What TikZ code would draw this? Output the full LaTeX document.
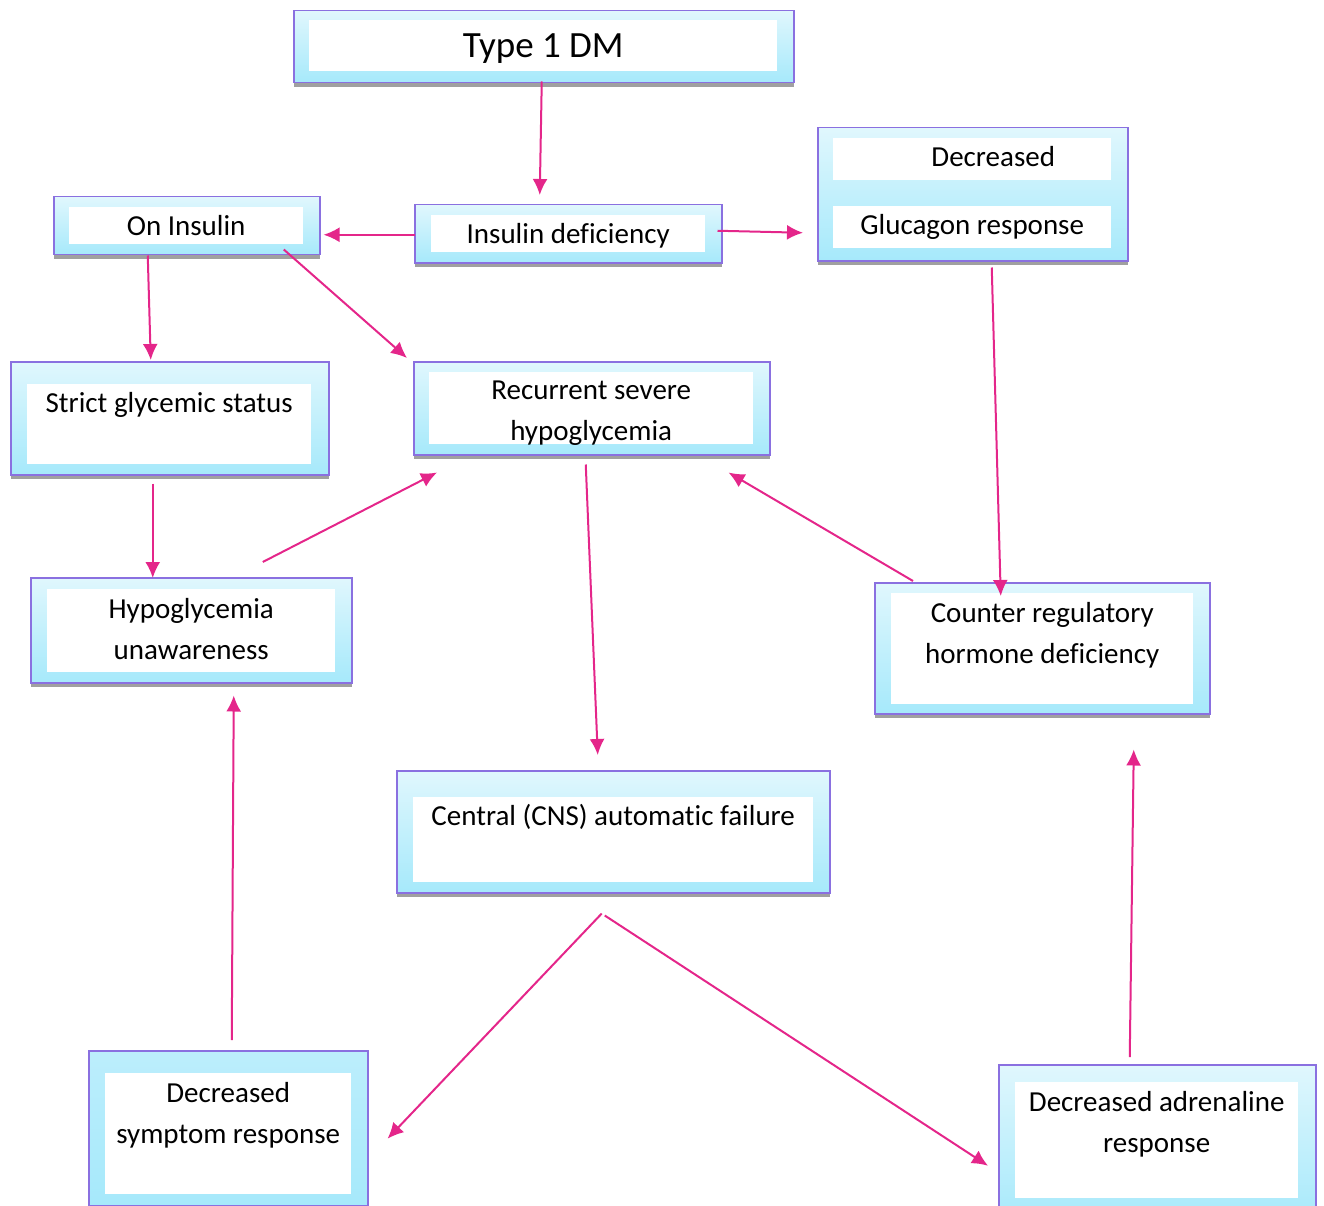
\documentclass[tikz,border=0pt]{standalone}
\usepackage{fontspec}
\setmainfont{Carlito}[Ligatures=NoCommon]
\usepackage{tikz}
\usetikzlibrary{arrows.meta,shadows}

\definecolor{boxpurple}{RGB}{138,112,224}
\definecolor{cyantop}{RGB}{224,247,253}
\definecolor{cyanbot}{RGB}{166,233,251}
\definecolor{cyanmid}{RGB}{188,238,252}
\definecolor{shadowgray}{RGB}{160,160,160}
\definecolor{arrowpink}{RGB}{228,38,138}

\begin{document}
\begin{tikzpicture}[x=1pt, y=-1pt,
  outer/.style={rectangle, draw=boxpurple, line width=1.5pt,
                top color=cyantop, bottom color=cyanbot, anchor=north west,
                inner sep=0pt,
                drop shadow={shadow xshift=0pt, shadow yshift=-4pt,
                             fill=shadowgray, opacity=1}},
  inner/.style={rectangle, fill=white, anchor=north west, inner sep=0pt},
  txt/.style={font=\fontsize{29}{41}\selectfont, align=center,
              inner sep=0pt, anchor=north,
              execute at begin node={\rule{0pt}{#1}}},
  txt/.default=26pt,
  twoline/.style={yshift=-7pt},
  arr/.style={draw=arrowpink, line width=2pt,
              -{Latex[length=16pt,width=15pt]}}]

\useasboundingbox (0,0) rectangle (1324,1206);

\node[outer, minimum width=500, minimum height=72] (t1dm) at (293,10) {};
\node[inner, minimum width=468, minimum height=51] (t1dm-in) at (309,20) {};
\node[txt=33pt, font=\fontsize{37}{44}\selectfont] (t1dm-txt)
  at ([shift={(0,4)}]t1dm-in.north) {Type 1 DM};

\node[outer, minimum width=266, minimum height=58] (oninsulin) at (53,196) {};
\node[inner, minimum width=234, minimum height=37] (oninsulin-in) at (69,207) {};
\node[txt] (oninsulin-txt) at ([shift={(0,2)}]oninsulin-in.north) {On Insulin};

\node[outer, minimum width=307, minimum height=58] (insdef) at (414,204) {};
\node[inner, minimum width=274, minimum height=37] (insdef-in) at (431,215) {};
\node[txt] (insdef-txt) at ([shift={(0,2)}]insdef-in.north) {Insulin deficiency};

\node[outer, minimum width=310, minimum height=133] (glucagon) at (817,127) {};
\node[inner, minimum width=278, minimum height=42] (glucagon-in1) at (833,138) {};
\node[inner, minimum width=278, minimum height=42] (glucagon-in2) at (833,206) {};
\node[txt] (glucagon-txt1) at ([shift={(21,2)}]glucagon-in1.north) {Decreased};
\node[txt] (glucagon-txt2) at ([shift={(0,2)}]glucagon-in2.north) {Glucagon response};

\node[outer, minimum width=318, minimum height=113] (strict) at (10,361) {};
\node[inner, minimum width=284, minimum height=80] (strict-in) at (27,384) {};
\node[txt] (strict-txt) at ([shift={(0,2)}]strict-in.north) {Strict glycemic status};

\node[outer, minimum width=356, minimum height=93] (rsh) at (413,361) {};
\node[inner, minimum width=324, minimum height=72] (rsh-in) at (429,372) {};
\begin{scope}
  \clip (rsh-in.south west) rectangle (rsh-in.north east);
  \node[txt, twoline] (rsh-txt) at ([shift={(0,2)}]rsh-in.north) {Recurrent severe\\hypoglycemia};
\end{scope}

\node[outer, minimum width=321, minimum height=105] (unaware) at (30,577) {};
\node[inner, minimum width=288, minimum height=83] (unaware-in) at (47,589) {};
\node[txt, twoline] (unaware-txt) at ([shift={(0,2)}]unaware-in.north) {Hypoglycemia\\unawareness};

\node[outer, minimum width=335, minimum height=131] (counter) at (874,582) {};
\node[inner, minimum width=302, minimum height=111] (counter-in) at (891,593) {};
\node[txt, twoline] (counter-txt) at ([shift={(0,2)}]counter-in.north) {Counter regulatory\\hormone deficiency};

\node[outer, minimum width=433, minimum height=122] (cns) at (396,770) {};
\node[inner, minimum width=400, minimum height=85] (cns-in) at (413,797) {};
\node[txt] (cns-txt) at ([shift={(0,2)}]cns-in.north) {Central (CNS) automatic failure};

\node[outer, top color=cyanmid, minimum width=279, minimum height=155] (symptom) at (88,1050) {};
\node[inner, minimum width=246, minimum height=121] (symptom-in) at (105,1073) {};
\node[txt, twoline] (symptom-txt) at ([shift={(0,2)}]symptom-in.north) {Decreased\\symptom response};

\node[outer, minimum width=317, minimum height=160] (adrenaline) at (998,1064) {};
\node[inner, minimum width=283, minimum height=116] (adrenaline-in) at (1015,1082) {};
\node[txt, twoline] (adrenaline-txt) at ([shift={(0,2)}]adrenaline-in.north) {Decreased adrenaline\\response};

\draw[arr] ([shift={(-2,-2)}]t1dm.south) -- ([shift={(-28.5,-9)}]insdef.north);
\draw[arr] ([shift={(1,1)}]insdef.west) -- ([shift={(3,9)}]oninsulin.east);
\draw[arr] ([shift={(-5,-3)}]insdef.east) -- ([shift={(-14,38.5)}]glucagon.west);
\draw[arr] ([shift={(-39,0)}]oninsulin.south) -- ([shift={(-19,-1)}]strict.north);
\draw[arr] ([shift={(97,-6)}]oninsulin.south) -- ([shift={(-6,-3)}]rsh.north west);
\draw[arr] ([shift={(-17,8)}]strict.south) -- ([shift={(-38.5,1)}]unaware.north);
\draw[arr] ([shift={(71.5,-15)}]unaware.north) -- ([shift={(24,17)}]rsh.south west);
\draw[arr] ([shift={(19,6)}]glucagon.south) -- ([shift={(-41.5,14)}]counter.north);
\draw[arr] ([shift={(39,-1)}]counter.north west) -- ([shift={(-42,17)}]rsh.south east);
\draw[arr] ([shift={(-6,9)}]rsh.south) -- ([shift={(-15.5,-15)}]cns.north);
\draw[arr] ([shift={(-11.5,20)}]cns.south) -- ([shift={(19,10.5)}]symptom.east);
\draw[arr] ([shift={(-8.5,22)}]cns.south) -- ([shift={(-10,21)}]adrenaline.west);
\draw[arr] ([shift={(3.5,-10)}]symptom.north) -- ([shift={(42.5,12)}]unaware.south);
\draw[arr] ([shift={(-27.5,-7)}]adrenaline.north) -- ([shift={(91.5,35)}]counter.south);
\end{tikzpicture}
\end{document}
